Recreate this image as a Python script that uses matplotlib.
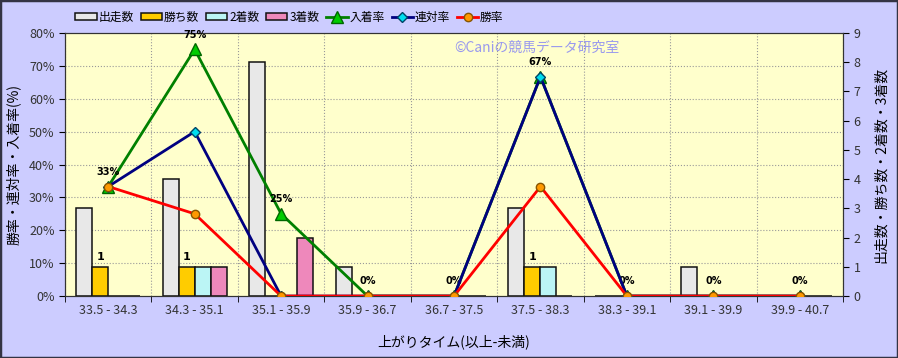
import numpy as np
import matplotlib.pyplot as plt
from matplotlib.patches import Rectangle

plt.rcParams['font.family'] = ['Noto Sans CJK JP', 'DejaVu Sans']

# bins of 上がりタイム
categories = ['33.5 - 34.3', '34.3 - 35.1', '35.1 - 35.9', '35.9 - 36.7', '36.7 - 37.5',
              '37.5 - 38.3', '38.3 - 39.1', '39.1 - 39.9', '39.9 - 40.7']
runs = [3, 4, 8, 1, 0, 3, 0, 1, 0]        # 出走数
wins = [1, 1, 0, 0, 0, 1, 0, 0, 0]        # 勝ち数
seconds = [0, 1, 0, 0, 0, 1, 0, 0, 0]     # 2着数
thirds = [0, 1, 2, 0, 0, 0, 0, 0, 0]      # 3着数
win_rate = [33.3, 25, 0, 0, 0, 33.3, 0, 0, 0]      # 勝率
rentai_rate = [33.3, 50, 0, 0, 0, 66.7, 0, 0, 0]   # 連対率
place_rate = [33.3, 75, 25, 0, 0, 66.7, 0, 0, 0]   # 入着率
place_labels = ['33%', '75%', '25%', '0%', '0%', '67%', '0%', '0%', '0%']

fig = plt.figure(figsize=(8.98, 3.58), dpi=100, facecolor='#CCCCFF')
fig.patches.append(Rectangle((0, 0), 1, 1, transform=fig.transFigure, fill=False,
                             edgecolor='#333344', linewidth=2.5))

ax = fig.add_axes([0.0724, 0.173, 0.8664, 0.735])
ax.set_facecolor('#FFFFCC')
x = np.arange(len(categories))
w = 0.185

# bars on count axis
bar_sets = [(runs, '#E8E8E8', '出走数'), (wins, '#FFCC00', '勝ち数'),
            (seconds, '#BBF5F5', '2着数'), (thirds, '#EE88BB', '3着数')]
handles = []
for i, (vals, col, lab) in enumerate(bar_sets):
    b = ax.bar(x + (i - 1.5) * w, vals, w, color=col, edgecolor='#111111', linewidth=1.1,
               label=lab, zorder=2)
    handles.append(b)
for xi, v in zip(x, wins):
    if v > 0:
        ax.text(xi - 0.5 * w, v + 0.15, str(v), ha='center', va='bottom', fontsize=8,
                family='DejaVu Sans', fontweight='bold', zorder=5)

ax.set_ylim(0, 9)
ax.set_xlim(-0.5, len(categories) - 0.5)
ax.set_xticks(x)
ax.set_xticklabels(categories, fontsize=9, color='#333333')
ax.set_xticks(np.arange(-0.5, len(categories), 1), minor=True)
ax.tick_params(axis='x', which='major', length=0, pad=6)
ax.tick_params(axis='x', which='minor', length=4)
ax.grid(axis='x', which='minor', color='#999999', linestyle=':', linewidth=0.8, zorder=0)
ax.set_xlabel('上がりタイム(以上-未満)', fontsize=10, labelpad=12)
for yv in range(10, 80, 10):
    ax.axhline(yv * 9 / 80, color='#999999', linestyle=':', linewidth=0.8, zorder=0)

# rate lines on percent axis
ax2 = ax.twinx()
# counts go on the right, percentages on the left
ax.yaxis.tick_right()
ax.yaxis.set_label_position('right')
ax.set_yticks(range(10))
ax.tick_params(axis='y', labelsize=9, labelcolor='#333333', length=4)
ax.set_ylabel('出走数・勝ち数・2着数・3着数', fontsize=10, labelpad=10)

ax2.yaxis.tick_left()
ax2.yaxis.set_label_position('left')
ax2.set_ylim(0, 80)
ax2.set_yticks(range(0, 81, 10))
ax2.set_yticklabels([f'{v}%' for v in range(0, 81, 10)])
ax2.tick_params(axis='y', labelsize=9, labelcolor='#333333', length=4)
ax2.set_ylabel('勝率・連対率・入着率(%)', fontsize=10, labelpad=6)

l1, = ax2.plot(x, place_rate, color='#008000', linewidth=2, marker='^', markersize=8,
               markerfacecolor='#00CC00', markeredgecolor='#006600', label='入着率', zorder=3)
l2, = ax2.plot(x, rentai_rate, color='#000080', linewidth=2, marker='D', markersize=5,
               markerfacecolor='#00DDEE', markeredgecolor='#004466', label='連対率', zorder=4)
l3, = ax2.plot(x, win_rate, color='#FF0000', linewidth=2, marker='o', markersize=6,
               markerfacecolor='#FF9900', markeredgecolor='#885500', label='勝率', zorder=5)
for xi, v, lab in zip(x, place_rate, place_labels):
    ax2.text(xi, v + 3, lab, ha='center', va='bottom', fontsize=7, fontweight='bold',
             family='DejaVu Sans')

ax2.text(4.0, 75.5, '©Caniの競馬データ研究室', fontsize=10, color='#9999EE', ha='left',
         va='center')

for a in (ax, ax2):
    for s in a.spines.values():
        s.set_color('#333333')

fig.legend(handles + [l1, l2, l3], [h.get_label() for h in handles + [l1, l2, l3]],
           loc='upper left', bbox_to_anchor=(0.072, 1.0), ncol=7, frameon=False,
           fontsize=8.5, handlelength=1.8, handletextpad=0.15, columnspacing=0.6,
           handleheight=0.5)

fig.savefig('out.png', dpi=100, facecolor=fig.get_facecolor())
